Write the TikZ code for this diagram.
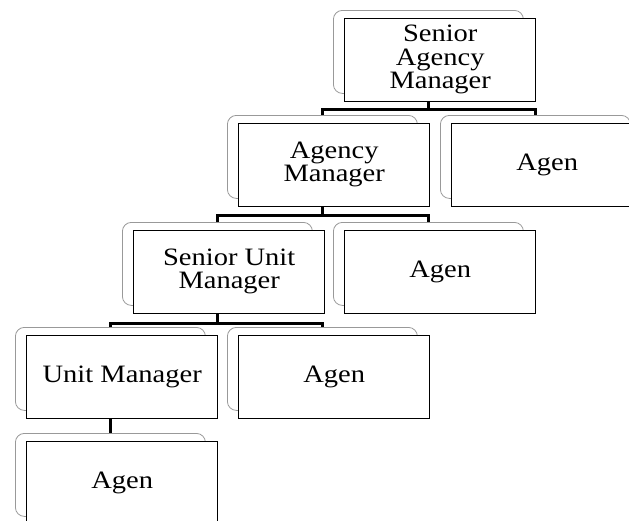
\documentclass[tikz,border=0pt]{standalone}
\usepackage{fontspec}
\setmainfont{Liberation Serif}
\usepackage{graphicx}
\usetikzlibrary{calc}
\newcommand\boxtext[1]{\scalebox{1.14}[1]{\begin{tabular}{@{}c@{}}#1\end{tabular}}}
\newcommand\orgnode[4]{%
  \node[backbox] (#1b) at (#2,#3) {};
  \node[frontbox] (#1) at (#2+11,#3+8) {\boxtext{#4}};
}
\begin{document}
\begin{tikzpicture}[x=1pt,y=-1pt,
  backbox/.style={draw=black!40, line width=0.8pt, rounded corners=9pt, fill=white,
    minimum width=190pt, minimum height=83pt, anchor=north west, inner sep=0pt},
  frontbox/.style={draw=black, line width=1.4pt, fill=white,
    minimum width=191pt, minimum height=83pt, anchor=north west, inner sep=0pt,
    font=\fontsize{25}{23}\selectfont},
  conn/.style={line width=3pt}]
\useasboundingbox (0,0) rectangle (629,520);
\clip (0,0) rectangle (629,520);
\fill[white] (0,0) rectangle (629,520);

\orgnode{sam}{333}{10}{Senior\\Agency\\Manager}
\orgnode{am}{227}{115}{Agency\\Manager}
\orgnode{agA}{440}{115}{Agen}
\orgnode{sum}{122}{222}{Senior Unit\\Manager}
\orgnode{agB}{333}{222}{Agen}
\orgnode{um}{15}{327}{Unit Manager}
\orgnode{agC}{227}{327}{Agen}
\orgnode{agD}{15}{433}{Agen}

\coordinate (j1) at ($(samb.south |- sam.south)+(0,7)$);
\draw[conn] (samb.south |- sam.south) -- (j1);
\draw[conn] (amb.north) |- (j1) -| (agAb.north);

\coordinate (j2) at ($(amb.south |- am.south)+(0,8)$);
\draw[conn] (amb.south |- am.south) -- (j2);
\draw[conn] (sumb.north) |- (j2) -| (agBb.north);

\coordinate (j3) at ($(sumb.south |- sum.south)+(0,9)$);
\draw[conn] (sumb.south |- sum.south) -- (j3);
\draw[conn] (umb.north) |- (j3) -| (agCb.north);

\draw[conn] (umb.south |- um.south) -- (agDb.north);
\end{tikzpicture}
\end{document}
